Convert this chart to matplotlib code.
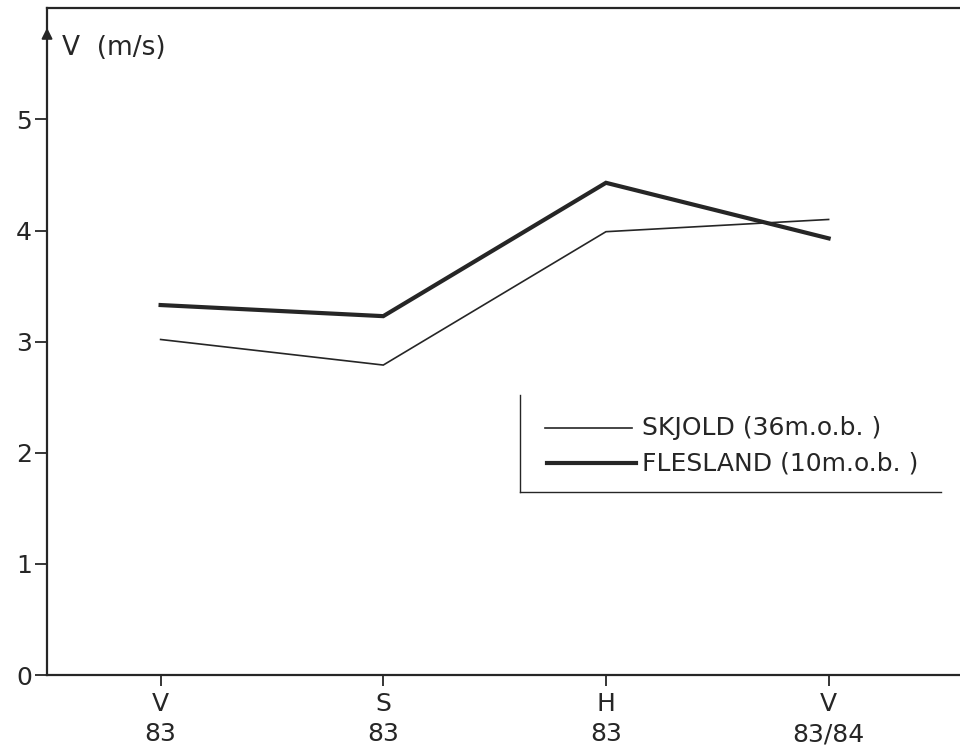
import matplotlib
matplotlib.use("Agg")
import matplotlib.pyplot as plt

seasons = ["V\n83", "S\n83", "H\n83", "V\n83/84"]
skjold = [3.02, 2.79, 3.99, 4.10]
flesland = [3.33, 3.23, 4.43, 3.93]
yticks = [0, 1, 2, 3, 4, 5]
label_skjold = "SKJOLD (36m.o.b. )"
label_flesland = "FLESLAND (10m.o.b. )"
ylabel = "V  (m/s)"

plt.rcParams['font.family'] = ['DejaVu Sans']
ink = "#262626"

fig = plt.figure(figsize=(9.6, 7.56), dpi=100)
ax = fig.add_axes([0.049, 0.107, 0.951, 0.882])

x = list(range(len(seasons)))
ax.plot(x, skjold, color=ink, lw=1.2, solid_joinstyle='miter')
ax.plot(x, flesland, color=ink, lw=3.0, solid_joinstyle='miter')

ax.set_xlim(-0.51, 3.59)
ax.set_ylim(0, 6)
ax.set_xticks(x)
ax.set_xticklabels(seasons, fontsize=18, color=ink, linespacing=1.35)
ax.set_yticks(yticks)
ax.set_yticklabels([str(v) for v in yticks], fontsize=18, color=ink)
ax.tick_params(axis='x', direction='out', length=8, width=1.3, color=ink, pad=4)
ax.tick_params(axis='y', direction='out', length=9, width=1.3, color=ink, pad=2)

for s in ['left', 'bottom', 'top']:
    ax.spines[s].set_linewidth(1.6)
    ax.spines[s].set_color(ink)
ax.spines['right'].set_visible(False)

ax.text(0.016, 0.94, ylabel, transform=ax.transAxes, fontsize=19,
        color=ink, va='center', ha='left')
ax.annotate("", xy=(0.0, 0.975), xytext=(0.0, 0.91), xycoords='axes fraction',
            arrowprops=dict(arrowstyle='-|>', color=ink, lw=1.4,
                            mutation_scale=16), annotation_clip=False)

# legend frame (left and bottom edges only)
ax.plot([0.518, 0.518], [0.274, 0.420], transform=ax.transAxes, color=ink, lw=1.0)
ax.plot([0.518, 0.979], [0.274, 0.274], transform=ax.transAxes, color=ink, lw=1.0)
ax.plot([0.545, 0.641], [0.370, 0.370], transform=ax.transAxes, color=ink, lw=1.2)
ax.plot([0.548, 0.645], [0.318, 0.318], transform=ax.transAxes, color=ink, lw=3.0)
ax.text(0.652, 0.370, label_skjold, transform=ax.transAxes, fontsize=18,
        color=ink, va='center', ha='left')
ax.text(0.652, 0.318, label_flesland, transform=ax.transAxes, fontsize=18,
        color=ink, va='center', ha='left')

fig.savefig("out.png", dpi=100)
